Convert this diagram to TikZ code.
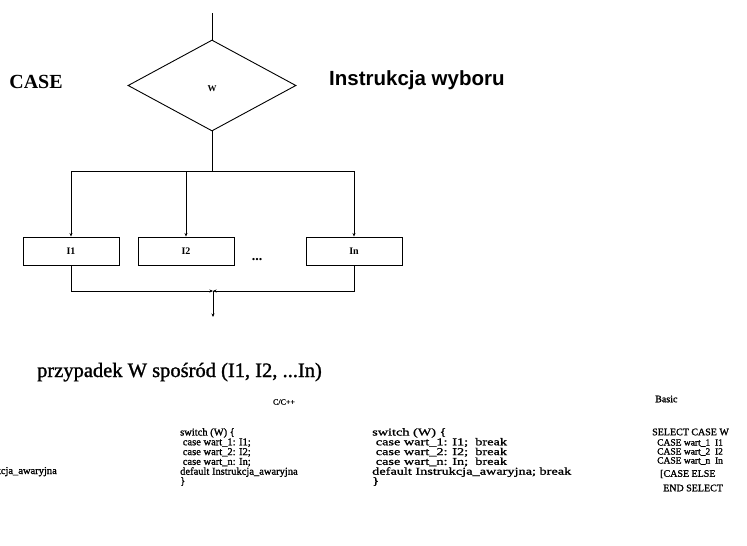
\documentclass[tikz,border=0pt]{standalone}
\usepackage{fontspec}
\setmainfont{Liberation Serif}
\newfontfamily\headsans{Liberation Sans}
\newfontfamily\darkserif[FakeBold=1.2]{Liberation Serif}
\newfontfamily\codewide[FakeStretch=1.36,FakeBold=1.2]{Liberation Serif}
\usetikzlibrary{shapes.geometric,arrows.meta}

\begin{document}
\begin{tikzpicture}[x=1pt,y=-1pt,
  flow/.style={line width=0.9pt},
  arr/.style={flow,-{Stealth[length=3.5pt,width=3pt]}},
  choice/.style={draw,line width=0.9pt,shape=diamond,minimum width=168pt,minimum height=91pt,inner sep=0pt},
  stepbox/.style={draw,line width=0.9pt,minimum width=96pt,minimum height=28pt,inner sep=0pt,font=\fontsize{10}{12}\selectfont\bfseries},
  code/.style={inner sep=0pt,align=left,font=\darkserif\fontsize{10.5}{9.8}\selectfont},
  codeline/.style={inner sep=0pt,anchor=west,font=\darkserif\fontsize{10}{12}\selectfont}]
\useasboundingbox (0,0) rectangle (747,546);

% decision
\node[choice] (w) at (212,85.5) {};
\node[inner sep=0pt,font=\fontsize{9}{10}\selectfont\bfseries] (wlab) at (212,89) {W};
\coordinate (top) at (212,13);
\coordinate (split) at (212,171);
\draw[flow] (top) -- (w.north);
\draw[flow] (w.south) -- (split);

% branches
\node[stepbox] (i1) at (71,251) {I1};
\node[stepbox] (i2) at (186,251) {I2};
\node[stepbox] (in) at (354,251) {In};
\node[inner sep=0pt,font=\fontsize{14}{14}\selectfont\bfseries] (dots) at (257,260) {...};
\draw[arr] (split) -| (i1.north);
\draw[arr] (split) -| (in.north);
\draw[arr] (i2.north |- split) -- (i2.north);

% merge
\coordinate (join) at (213,291);
\coordinate (exit) at (213,317);
\draw[arr] (i1.south) |- (join);
\draw[arr] (in.south) |- (join);
\draw[arr] (join) -- (exit);

% titles
\node[inner sep=0pt,font=\fontsize{20}{22}\selectfont\bfseries] (case) at (36,82) {CASE};
\node[inner sep=0pt,anchor=west,font=\headsans\fontsize{20.5}{22}\selectfont\bfseries] (title) at (329,80) {Instrukcja wyboru};
\node[inner sep=0pt,anchor=base west,font=\darkserif\fontsize{20.5}{22}\selectfont] (desc) at (37,377) {przypadek W spośród (I1, I2, ...In)};

% code samples
\node[inner sep=0pt,font=\darkserif\fontsize{8}{9}\selectfont] (lang) at (284,402) {C/C++};
\node[inner sep=0pt,anchor=base east,font=\darkserif\fontsize{10.5}{12}\selectfont] (cut) at (57,474) {default Instrukcja\_awaryjna};
\node[code,anchor=north west] (cblock) at (180,428) {switch (W) \{\\
\ case wart\_1: I1;\\
\ case wart\_2: I2;\\
\ case wart\_n: In;\\
default Instrukcja\_awaryjna\\
\}};
\node[code,anchor=north west,font=\codewide\fontsize{10.5}{9.8}\selectfont] (cbreak) at (372,428) {switch (W) \{\\
\ case wart\_1: I1;\ \ break\\
\ case wart\_2: I2;\ \ break\\
\ case wart\_n: In;\ \ break\\
default Instrukcja\_awaryjna; break\\
\}};

% Basic
\node[codeline] (basic) at (655,399) {Basic};
\node[codeline] (b1) at (652,432) {SELECT CASE W};
\node[codeline,font=\darkserif\fontsize{9.5}{11}\selectfont] (b2) at (657,443) {CASE wart\_1\ \ I1};
\node[codeline,font=\darkserif\fontsize{9.5}{11}\selectfont] (b3) at (657,452) {CASE wart\_2\ \ I2};
\node[codeline,font=\darkserif\fontsize{9.5}{11}\selectfont] (b4) at (657,461) {CASE wart\_n\ \ In};
\node[codeline] (b5) at (660,474) {[CASE ELSE};
\node[codeline] (b6) at (663,488) {END SELECT};
\end{tikzpicture}
\end{document}
